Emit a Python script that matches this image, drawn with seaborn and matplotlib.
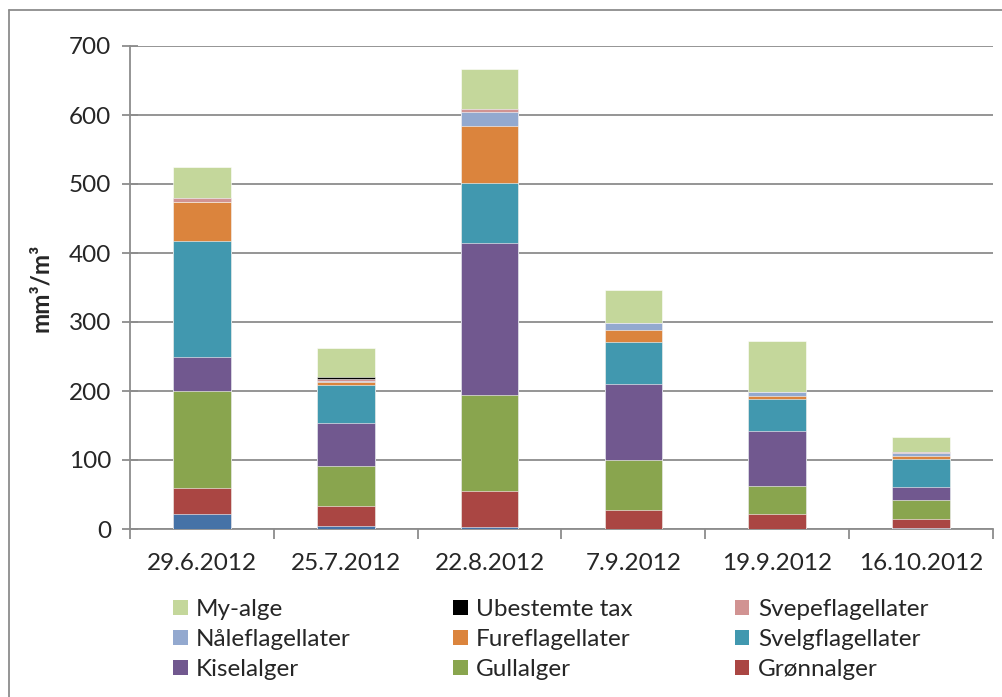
import seaborn as sns
import pandas as pd
import numpy as np
import matplotlib.pyplot as plt
from matplotlib.patches import Patch
from matplotlib.lines import Line2D

# datoer for prøvetaking
datoer = ['29.6.2012', '25.7.2012', '22.8.2012', '7.9.2012', '19.9.2012', '16.10.2012']

# biovolum per gruppe (mm3/m3), nederst til øverst
blagronn = [22, 4, 3, 0, 0, 1]
gronnalger = [38, 30, 52, 27, 22, 13]
gullalger = [140, 58, 139, 73, 40, 28]
kiselalger = [50, 61, 220, 110, 80, 19]
svelgflagellater = [167, 56, 87, 61, 46, 40]
fureflagellater = [57, 4, 83, 17, 5, 5]
naleflagellater = [0, 2, 20, 11, 6, 4]
svepeflagellater = [5, 2, 5, 0, 0, 1]
ubestemte = [0, 4, 0, 0, 0, 0]
my_alge = [46, 42, 57, 48, 73, 22]

grupper = ['Blågrønnalger', 'Grønnalger', 'Gullalger', 'Kiselalger', 'Svelgflagellater',
           'Fureflagellater', 'Nåleflagellater', 'Svepeflagellater', 'Ubestemte tax', 'My-alge']
verdier = [blagronn, gronnalger, gullalger, kiselalger, svelgflagellater,
           fureflagellater, naleflagellater, svepeflagellater, ubestemte, my_alge]
farger = ['#4572A7', '#AA4643', '#89A54E', '#71588F', '#4198AF',
          '#DB843D', '#93A9CF', '#D19392', '#000000', '#C4D79B']

df = pd.DataFrame(dict(zip(grupper, verdier)), index=datoer)
kum = df.cumsum(axis=1)

sns.set_style('white')
plt.rcParams['font.family'] = ['Lato', 'DejaVu Sans']

fig = plt.figure(figsize=(10.02, 6.97), dpi=100)
ax = fig.add_axes([130/1002, 1-529/697, (993-130)/1002, (529-46)/697])

# stablet: tegn kumulative summer fra toppen og ned
for g, c in reversed(list(zip(grupper, farger))):
    sns.barplot(x=datoer, y=kum[g].values, color=c, width=0.4, ax=ax,
                edgecolor='white', linewidth=0.4, saturation=1, zorder=3)

ax.set_ylim(0, 700)
ax.set_xlim(-0.5, 5.5)
ax.set_yticks(np.arange(0, 701, 100))
ax.yaxis.grid(True, color='#8C8C8C', linewidth=1.3, zorder=0)
ax.set_axisbelow(True)
for s in ['top', 'right']:
    ax.spines[s].set_visible(False)
for s in ['left', 'bottom']:
    ax.spines[s].set_color('#8C8C8C')
    ax.spines[s].set_linewidth(1.3)

ax.tick_params(axis='y', direction='inout', length=11, width=1.3, color='#8C8C8C',
               labelsize=17.5, pad=8, left=True)
ax.set_xticks(range(len(datoer)))
ax.set_xticklabels(datoer)
ax.set_xticks(np.arange(-0.5, 6, 1), minor=True)
ax.tick_params(axis='x', which='major', length=0, labelsize=17.5, pad=17)
ax.tick_params(axis='x', which='minor', direction='out', length=7, width=1.3,
               color='#8C8C8C', bottom=True)
ax.set_ylabel('mm³/m³', fontsize=17.5, fontweight='bold', labelpad=12)
ax.set_xlabel('')

# legende (Excel-rekkefølge, radvis)
rader = [['My-alge', 'Ubestemte tax', 'Svepeflagellater'],
         ['Nåleflagellater', 'Fureflagellater', 'Svelgflagellater'],
         ['Kiselalger', 'Gullalger', 'Grønnalger']]
rekkefolge = [rader[r][k] for k in range(3) for r in range(3)]
fargemap = dict(zip(grupper, farger))
handles = [Patch(facecolor=fargemap[n], edgecolor='none') for n in rekkefolge]
fig.legend(handles, rekkefolge, ncol=3, loc='upper left',
           bbox_to_anchor=(173/1002, 1-599/697), frameon=False, fontsize=17.5,
           handlelength=0.6, handleheight=0.6, handletextpad=0.35,
           columnspacing=4.2, labelspacing=0.37, borderpad=0, borderaxespad=0)

# ramme rundt diagramområdet (kun topp og venstre synlig)
fig.add_artist(Line2D([9/1002, 1], [1-10/697, 1-10/697], color='#8C8C8C', lw=1.3))
fig.add_artist(Line2D([9/1002, 9/1002], [0, 1-10/697], color='#8C8C8C', lw=1.3))

fig.savefig('out.png', dpi=100)
